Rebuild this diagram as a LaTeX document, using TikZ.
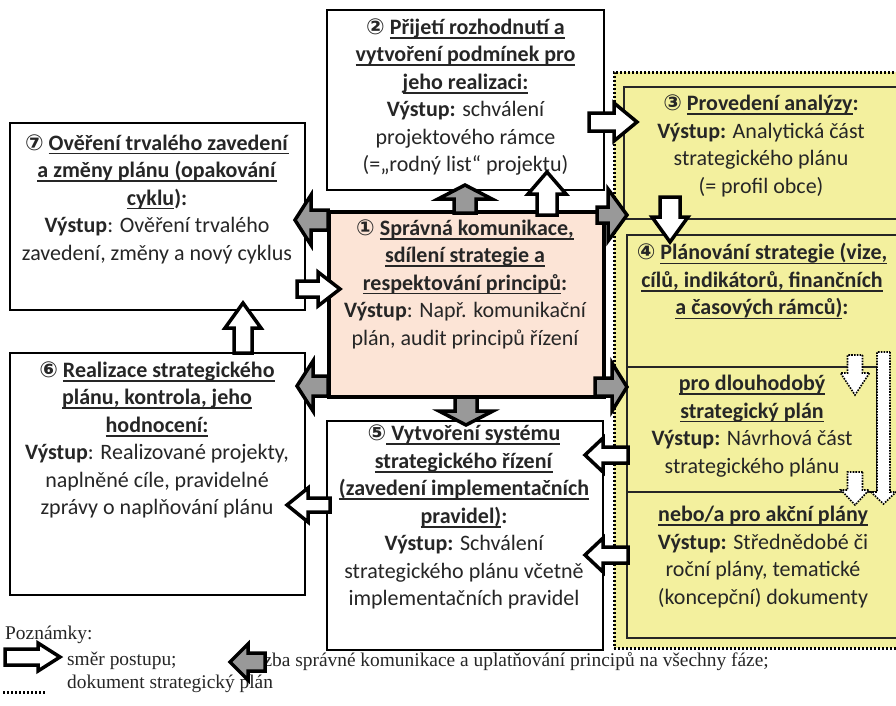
\documentclass[tikz,border=0pt]{standalone}
\usepackage{fontspec}
\setmainfont{Carlito}
\newfontfamily\circfont{DejaVu Sans}
\newfontfamily\notefont{Liberation Serif}
\usetikzlibrary{calc}

\definecolor{txt}{HTML}{262626}
\definecolor{salmon}{HTML}{FCE4D6}
\definecolor{lemon}{HTML}{F3F09E}
\definecolor{arrgray}{HTML}{999999}

% underline at a fixed depth below the baseline
\newcommand\uln[1]{\setbox0\hbox{#1}\rlap{\rule[-0.2em]{\wd0}{0.085em}}\box0}
\newcommand\hd[1]{\uln{\textbf{#1}}}
\newcommand\circnum[1]{{\circfont #1}}

% block arrow: style, tail coordinate, direction, length, head length, shaft half width, head half width
\newcommand\blkarrow[7]{\draw[#1,shift={(#2)},rotate=#3]
  (0,-#6) -- (#4-#5,-#6) -- (#4-#5,-#7) -- (#4,0) -- (#4-#5,#7) -- (#4-#5,#6) -- (0,#6) -- cycle;}

\begin{document}
\begin{tikzpicture}[x=1pt,y=-1pt,
  box/.style={draw=black,line width=1.4pt,fill=white,inner sep=0pt},
  ybox/.style={draw=txt,line width=1.8pt,fill=lemon,inner sep=0pt},
  body/.style={text=txt,align=center,inner sep=0pt,font=\fontsize{22}{27.5}\selectfont},
  note/.style={text=txt,anchor=west,inner sep=0pt,font=\notefont\fontsize{19.4}{22}\selectfont},
  whitearrow/.style={draw=black,fill=white,line width=3.5pt,line join=miter},
  grayarrow/.style={draw=black,fill=arrgray,line width=3.5pt,line join=miter},
  dotarrow/.style={draw=black,fill=white,line width=1.6pt,dash pattern=on 1.6pt off 1.2pt},
  panel/.style={draw=black,fill=lemon,line width=3pt,dash pattern=on 2.2pt off 1.8pt}]
\useasboundingbox (0,0) rectangle (896,705);
\fill[white] (0,0) rectangle (896,705);

% strategic plan document panel
\node[panel,minimum width=286pt,minimum height=576pt,inner sep=0pt] (plan) at (757,360) {};
\node[ybox,minimum width=276pt,minimum height=132pt] (b3) at (762,153) {};
\node[ybox,minimum width=273pt,minimum height=403pt] (b4) at (763.5,436.5) {};
\node[ybox,minimum width=250pt,minimum height=125pt] (b4a) at (752,429.5) {};
\node[ybox,minimum width=250pt,minimum height=0pt,draw=none,fill=none] (b4b) at (752,557) {};

% process boxes
\node[box,minimum width=277pt,minimum height=180pt] (b2) at (465.5,100) {};
\node[box,minimum width=295pt,minimum height=187pt] (b7) at (157.5,216.5) {};
\node[box,minimum width=295pt,minimum height=242pt] (b6) at (157.5,474) {};
\node[box,minimum width=276pt,minimum height=229pt] (b5) at (465,535.5) {};
\node[box,fill=salmon,line width=3.5pt,minimum width=275pt,minimum height=185pt] (b1) at (466.5,304.5) {};

% texts
\node[body] (t2) at (465.5,97) {\textbf{\circnum{②}} \hd{Přijetí rozhodnutí a}\\ \hd{vytvoření podmínek pro}\\ \hd{jeho realizaci:}\\ \textbf{Výstup:} schválení\\ projektového rámce\\ (=„rodný list“ projektu)};
\node[body] (t7) at (157,199) {\textbf{\circnum{⑦}} \hd{Ověření trvalého zavedení}\\ \hd{a změny plánu (opakování}\\ \hd{cyklu}\textbf{):}\\ \textbf{Výstup}: Ověření trvalého\\ zavedení, změny a nový cyklus};
\node[body] (t1) at (465,284) {\textbf{\circnum{①}} \hd{Správná komunikace,}\\ \hd{sdílení strategie a}\\ \hd{respektování principů}\textbf{:}\\ \textbf{Výstup}: Např. komunikační\\ plán, audit principů řízení};
\node[body] (t6) at (157,440) {\textbf{\circnum{⑥}} \hd{Realizace strategického}\\ \hd{plánu, kontrola, jeho}\\ \hd{hodnocení:}\\ \textbf{Výstup}: Realizované projekty,\\ naplněné cíle, pravidelné\\ zprávy o naplňování plánu};
\node[body] (t5) at (464,517) {\textbf{\circnum{⑤}}\hd{ Vytvoření systému}\\ \hd{strategického řízení}\\ \hd{(zavedení implementačních}\\ \hd{pravidel)}\textbf{:}\\ \textbf{Výstup:} Schválení\\ strategického plánu včetně\\ implementačních pravidel};
\node[body] (t3) at (761,146) {\textbf{\circnum{③}} \hd{Provedení analýzy}\textbf{:}\\ \textbf{Výstup:} Analytická část\\ strategického plánu\\ (= profil obce)};
\node[body] (t4) at (762,281.5) {\textbf{\circnum{④}} \hd{Plánování strategie (vize,}\\ \hd{cílů, indikátorů, finančních}\\ \hd{a časových rámců)}\textbf{:}};
\node[body] (t4a) at (752,426) {\hd{pro dlouhodobý}\\ \hd{strategický plán}\\ \textbf{Výstup:} Návrhová část\\ strategického plánu};
\node[body] (t4b) at (763,557) {\hd{nebo/a pro akční plány}\\ \textbf{Výstup:} Střednědobé či\\ roční plány, tematické\\ (koncepční) dokumenty};

% tails of the direction arrows
\coordinate (w23) at (589,122);
\coordinate (w34) at (670,197);
\coordinate (w12) at (547,215);
\coordinate (w71) at (297,289);
\coordinate (w67) at (243,353);
\coordinate (w4a5) at (628,455);
\coordinate (w4b5) at (628,555);
\coordinate (w56) at (330,505);
% tails of the communication arrows
\coordinate (g12) at (465,213);
\coordinate (g17) at (328,220);
\coordinate (g16) at (328,386);
\coordinate (g13) at (597,215);
\coordinate (g14) at (595,387);
\coordinate (g15) at (466,397);
% tails of the arrows inside the planning box
\coordinate (d1) at (855,355);
\coordinate (d2) at (855,472);
\coordinate (d3) at (883.5,352);

\blkarrow{whitearrow}{w23}{0}{48}{23}{9}{19}
\blkarrow{whitearrow}{w34}{-90}{45}{25}{10}{18}
\blkarrow{whitearrow}{w12}{90}{43}{22}{10}{19}
\blkarrow{whitearrow}{w71}{0}{43}{22}{8}{17}
\blkarrow{whitearrow}{w67}{90}{50}{25}{9}{18}
\blkarrow{whitearrow}{w4a5}{180}{43}{18}{8}{17}
\blkarrow{whitearrow}{w4b5}{180}{43}{18}{8}{17}
\blkarrow{whitearrow}{w56}{180}{43}{21}{7}{17}

\blkarrow{grayarrow}{g12}{90}{28}{14}{11}{27}
\blkarrow{grayarrow}{g17}{180}{33}{16}{10}{25}
\blkarrow{grayarrow}{g16}{180}{31}{16}{10}{25}
\blkarrow{grayarrow}{g13}{0}{30}{19}{8}{26}
\blkarrow{grayarrow}{g14}{0}{32}{15}{9}{24}
\blkarrow{grayarrow}{g15}{-90}{28}{14}{11}{27}

\blkarrow{dotarrow}{d1}{-90}{40}{22}{7.5}{14.5}
\blkarrow{dotarrow}{d2}{-90}{33}{15}{7.5}{14}
\blkarrow{dotarrow}{d3}{-90}{152}{12}{6.5}{12.5}

% notes
\node[note] (n0) at (5,635) {Poznámky:};
\node[note] (n1) at (67,661) {směr postupu;};
\node[note] (n2) at (245,662) {vazba správné komunikace a uplatňování principů na všechny fáze;};
\node[note] (n3) at (67,684) {dokument strategický plán};
\coordinate (lw) at (5,657);
\coordinate (lg) at (265,662);
\blkarrow{whitearrow}{lw}{0}{55}{22}{8}{14}
\blkarrow{grayarrow}{lg}{180}{35}{18}{9}{18}
\coordinate (ld1) at (3,692);
\coordinate (ld2) at (45,692);
\draw[draw=black,line width=3pt,dash pattern=on 2.2pt off 1.8pt] (ld1) -- (ld2);
\end{tikzpicture}
\end{document}
